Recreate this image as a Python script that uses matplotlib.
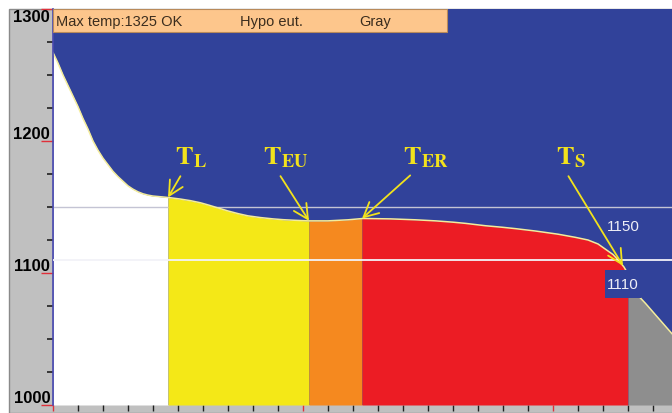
import numpy as np
import matplotlib.pyplot as plt
from matplotlib.patches import Rectangle

#------------------------------------------#
# Data
#------------------------------------------#

# cooling curve (time in s, temperature in C)
time = [0, 2, 4, 6, 8, 10, 12, 14, 16, 18, 20, 22, 24, 26, 28, 30, 32, 34, 36,
        38, 40, 44, 47, 51, 55, 59, 62, 66, 70, 74, 78, 83, 88, 92, 96, 102,
        110, 118, 124, 135, 145, 153, 160, 165, 173, 180, 185, 193, 202, 209,
        214, 218, 221, 224, 226, 228.4, 231, 234, 237, 241.6, 247.6]
temp = [1267, 1259, 1250, 1242, 1234, 1226, 1217, 1209, 1200, 1193, 1187,
        1182, 1177, 1173, 1169.5, 1166, 1163.5, 1161.5, 1160, 1159, 1158.3,
        1157.6, 1157, 1156, 1154.8, 1153.2, 1151.6, 1149.3, 1147, 1145,
        1143.3, 1142, 1141, 1140.4, 1140, 1139.5, 1139.5, 1140.3, 1141.3,
        1141, 1140.3, 1139.5, 1138.5, 1137.6, 1135.8, 1134.6, 1133.6, 1131.8,
        1129.4, 1127, 1125, 1122, 1118, 1114, 1110, 1104.5, 1096, 1083, 1077,
        1067, 1054]

# phase boundaries along the time axis
phase_edges = [0, 46, 102.4, 123.6, 230, 247.6]
phase_colors = ['white', '#f4e817', '#f5891f', '#ec1c24', '#8e8e8e']

# reference lines
ref_temps = [1150, 1110]
ref_labels = ['1150', '1110']

# arrows to the characteristic points
point_subs = ['L', 'EU', 'ER', 'S']
point_times = [46, 102.4, 123.6, 228]
label_times = [55, 93, 149, 207]
label_temp = 1188

header = ['Max temp:1325 OK', 'Hypo eut.', 'Gray']

yticks = [1000, 1100, 1200, 1300]

#------------------------------------------#
# Figure
#------------------------------------------#

plt.rcParams['mathtext.fontset'] = 'stix'
blue = '#31429a'

fig = plt.figure(figsize=(6.72, 4.14), dpi=100)
fig.patches.append(Rectangle((9 / 672, 0), 1, 1 - 10 / 414, transform=fig.transFigure,
                             fc='#c0c0c0', ec='#8a8a8a', lw=1, zorder=-5))
ax = fig.add_axes([53 / 672, 8 / 414, 619 / 672, 396 / 414])
ax.set_facecolor(blue)

t = np.array(time)
v = np.array(temp)

# filled phases under the curve
for i, (a, b, c) in enumerate(zip(phase_edges[:-1], phase_edges[1:], phase_colors)):
    inside = (t > a) & (t < b)
    ts = np.concatenate([[a], t[inside], [b]])
    vs = np.interp(ts, t, v)
    ax.fill_between(ts, 1000, vs, color=c, lw=0, zorder=1 if i == 0 else 2)

ax.plot(t, v, color='#f3ec9c', lw=1.1, zorder=2.5)

# reference lines and their labels
ax.axhline(ref_temps[0], color='#c4c4d4', lw=1, zorder=1.5)
ax.axhline(ref_temps[1], color='#f2f2f8', lw=1.3, zorder=3)
ax.text(221.6, ref_temps[0] - 14.4, ref_labels[0], color='#eeeef6', fontsize=11,
        family='Liberation Sans', va='center', ha='left', zorder=4)
ax.text(221.6, ref_temps[1] - 18.3, ref_labels[1], color='#eeeef6', fontsize=11,
        family='Liberation Sans', va='center', ha='left', zorder=4,
        bbox=dict(boxstyle='square,pad=0.12', fc=blue, ec='none', mutation_aspect=4))

# annotations
for sub, pt, lt in zip(point_subs, point_times, label_times):
    ax.annotate(r'$\mathbf{T_{%s}}$' % sub, xy=(pt, np.interp(pt, t, v)),
                xytext=(lt, label_temp), color='#f2e21c', fontsize=19,
                ha='center', va='center', zorder=6,
                arrowprops=dict(arrowstyle='->,head_length=0.55,head_width=0.28',
                                color='#f2e21c', lw=1.3, relpos=(0.3, 0),
                                shrinkA=3, shrinkB=0))

# header bar
ax.add_patch(Rectangle((0, 1 - 23 / 396), 394 / 619, 23 / 396, transform=ax.transAxes,
                       fc='#fdc68c', ec='#b88a5a', lw=0.8, zorder=5))
for txt, xf in zip(header, [3 / 619, 187 / 619, 306 / 619]):
    ax.text(xf, 1 - 12 / 396, txt, transform=ax.transAxes, fontsize=10.5,
            family='Liberation Sans', color='#3b2d1e', va='center', ha='left', zorder=6)

#------------------------------------------#
# Axes
#------------------------------------------#

ax.set_xlim(phase_edges[0], phase_edges[-1])
ax.set_ylim(1000, 1300)

ax.set_yticks(yticks)
ax.set_yticklabels([str(y) for y in yticks], fontsize=12, fontweight='bold',
                   family='Liberation Sans')
ax.set_yticks(np.arange(1000, 1301, 25), minor=True)
ax.set_xticks([0, 100, 200])
ax.set_xticks(np.arange(0, 248, 10), minor=True)
ax.set_xticklabels([])

ax.tick_params(axis='y', which='major', direction='out', length=8.5, width=1,
               color='#e0303a', labelcolor='black', pad=-6.5)
ax.tick_params(axis='y', which='minor', direction='out', length=4.5, width=1.2,
               color='#202020')
ax.tick_params(axis='x', which='major', direction='out', length=4.5, width=1,
               color='#e0303a')
ax.tick_params(axis='x', which='minor', direction='out', length=4.5, width=1,
               color='#202020')

for lab in ax.get_yticklabels():
    lab.set_va('top' if lab.get_text() == '1300' else 'bottom')

for side in ['top', 'right', 'bottom']:
    ax.spines[side].set_visible(False)
ax.spines['left'].set_color('#4a4ab0')
ax.spines['left'].set_linewidth(1.2)

fig.savefig('out.png', dpi=100)
